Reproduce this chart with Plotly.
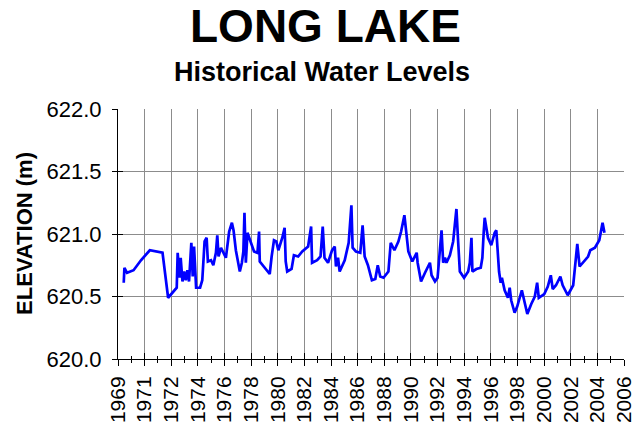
import plotly.graph_objects as go

# ---- data (decimal year, elevation m) ----
years = [1969.47, 1969.52, 1969.71, 1970.19, 1970.73, 1971.38, 1972.31, 1972.72, 1973.35, 1973.42,
         1973.55, 1973.64, 1973.77, 1973.89, 1974.01, 1974.13, 1974.25, 1974.42, 1974.52, 1974.62,
         1974.77, 1975.06, 1975.22, 1975.39, 1975.54, 1975.63, 1975.86, 1976.03, 1976.22, 1976.32,
         1976.41, 1976.59, 1976.95, 1977.19, 1977.39, 1977.51, 1977.68, 1977.87, 1977.97, 1978.12,
         1978.23, 1978.31, 1978.41, 1978.53, 1978.77, 1979.01, 1979.26, 1979.38, 1979.43, 1979.74,
         1980.16, 1980.30, 1980.47, 1980.64, 1980.79, 1981.08, 1981.25, 1981.33, 1981.44, 1981.76,
         1981.93, 1982.24, 1982.54, 1982.97, 1983.19, 1983.26, 1983.63, 1983.88, 1984.04, 1984.17,
         1984.43, 1984.72, 1984.92, 1985.01, 1985.16, 1985.28, 1985.65, 1985.94, 1986.14, 1986.23,
         1986.47, 1986.79, 1986.96, 1987.11, 1987.35, 1987.64, 1987.89, 1988.07, 1988.25, 1988.49,
         1988.85, 1989.02, 1989.29, 1989.58, 1989.78, 1990.02, 1990.15, 1990.31, 1990.60, 1990.92,
         1990.99, 1991.24, 1991.53, 1991.89, 1992.01, 1992.26, 1992.45, 1992.74, 1992.86, 1992.99,
         1993.10, 1993.35, 1993.59, 1993.83, 1993.96, 1994.08, 1994.39, 1994.69, 1994.81, 1994.93,
         1995.00, 1995.29, 1995.61, 1995.73, 1995.83, 1995.90, 1996.02, 1996.14, 1996.38, 1996.63,
         1996.75, 1996.82, 1996.95, 1997.07, 1997.16, 1997.36, 1997.60, 1997.73, 1997.84, 1998.09,
         1998.28, 1998.62, 1998.82, 1999.02, 1999.31, 1999.57, 1999.74, 1999.86, 2000.26, 2000.52,
         2000.74, 2000.88, 2001.12, 2001.44, 2001.61, 2001.98, 2002.38, 2002.58, 2002.68, 2002.85,
         2003.14, 2003.47, 2003.63, 2003.97, 2004.29, 2004.53, 2004.60, 2004.67]
elevation = [620.61, 620.73, 620.69, 620.71, 620.79, 620.87, 620.85, 620.49, 620.57, 620.85,
             620.65, 620.81, 620.62, 620.70, 620.63, 620.71, 620.62, 620.93, 620.66, 620.90,
             620.57, 620.57, 620.63, 620.94, 620.97, 620.78, 620.79, 620.75, 620.85, 620.99,
             620.82, 620.89, 620.81, 621.02, 621.09, 621.03, 620.87, 620.75, 620.70, 620.77,
             620.86, 621.17, 620.77, 621.01, 620.93, 620.86, 620.85, 621.02, 620.78, 620.74,
             620.68, 620.82, 620.95, 620.94, 620.87, 620.97, 621.05, 620.78, 620.70, 620.72,
             620.83, 620.82, 620.86, 620.90, 621.06, 620.77, 620.79, 620.82, 621.06, 620.81,
             620.77, 620.87, 620.90, 620.74, 620.81, 620.70, 620.79, 620.93, 621.23, 620.89,
             620.86, 620.85, 621.07, 620.82, 620.75, 620.63, 620.64, 620.75, 620.66, 620.65,
             620.70, 620.93, 620.87, 620.94, 621.02, 621.15, 621.03, 620.86, 620.78, 620.85,
             620.77, 620.62, 620.69, 620.77, 620.67, 620.62, 620.65, 621.03, 620.77, 620.81,
             620.77, 620.83, 620.94, 621.20, 620.93, 620.70, 620.65, 620.70, 620.77, 620.97,
             620.70, 620.72, 620.73, 620.81, 621.02, 621.13, 621.05, 620.97, 620.91, 621.01,
             621.03, 620.90, 620.70, 620.61, 620.65, 620.55, 620.49, 620.57, 620.47, 620.37,
             620.42, 620.55, 620.46, 620.36, 620.44, 620.50, 620.61, 620.49, 620.52, 620.58,
             620.67, 620.56, 620.59, 620.66, 620.59, 620.51, 620.59, 620.78, 620.92, 620.74,
             620.78, 620.82, 620.87, 620.89, 620.95, 621.09, 621.05, 621.01]

tick_labels = ["1969", "1971", "1972", "1974", "1976", "1978", "1980", "1982", "1984", "1986",
               "1988", "1990", "1992", "1994", "1996", "1998", "2000", "2002", "2004", "2006"]
tick_start = 1969.05
tick_step = 1.95
y_range = [620.0, 622.0]

tick_vals = [round(tick_start + i * tick_step, 4) for i in range(len(tick_labels))]
minor_vals = [round(v + tick_step / 2, 4) for v in tick_vals[:-1]]
x_range = [tick_vals[0] - 1e-4, tick_vals[-1] + 1e-4]

FONT = "Liberation Sans, Arial, sans-serif"
GRID = "#8c8c8c"

fig = go.Figure()
fig.add_trace(go.Scatter(x=years, y=elevation, mode="lines",
                         line=dict(color="#0000FF", width=2.7), showlegend=False,
                         hoverinfo="x+y"))
# empty trace to host the overlay axes (inside tick marks)
fig.add_trace(go.Scatter(x=[], y=[], xaxis="x2", yaxis="y2", showlegend=False))

fig.update_layout(
    width=636, height=430,
    margin=dict(l=118, r=12, t=109, b=71),
    paper_bgcolor="white", plot_bgcolor="white",
    font=dict(family=FONT, color="black"),
    xaxis=dict(range=x_range, tickmode="array", tickvals=tick_vals, ticktext=tick_labels,
               tickangle=-90, tickfont=dict(size=21, family=FONT), automargin=False,
               ticklabelstandoff=2, ticklabeloverflow="allow",
               showgrid=True, gridcolor=GRID, gridwidth=1,
               showline=True, linecolor="black", linewidth=1,
               ticks="outside", ticklen=6, tickcolor="black", tickwidth=1,
               minor=dict(tickmode="array", tickvals=minor_vals, ticks="outside",
                          ticklen=3, tickcolor="black", tickwidth=1, showgrid=False),
               zeroline=False),
    yaxis=dict(range=y_range, tickmode="linear", tick0=620.0, dtick=0.5, tickformat=".1f",
               tickfont=dict(size=22, family=FONT), automargin=False,
               ticklabelstandoff=6, ticklabeloverflow="allow",
               showgrid=True, gridcolor=GRID, gridwidth=1,
               showline=True, linecolor="black", linewidth=1,
               ticks="outside", ticklen=5, tickcolor="black", tickwidth=1,
               zeroline=False),
    xaxis2=dict(range=x_range, overlaying="x", anchor="y2", side="bottom",
                tickmode="array", tickvals=tick_vals, showticklabels=False,
                ticks="inside", ticklen=6, tickcolor="black", tickwidth=1,
                minor=dict(tickmode="array", tickvals=minor_vals, ticks="inside",
                           ticklen=3, tickcolor="black", tickwidth=1, showgrid=False),
                showgrid=False, zeroline=False, showline=False),
    yaxis2=dict(range=y_range, overlaying="y", anchor="x2", side="left",
                tickmode="linear", tick0=620.0, dtick=0.5, showticklabels=False,
                ticks="inside", ticklen=5, tickcolor="black", tickwidth=1,
                showgrid=False, zeroline=False, showline=False),
    annotations=[
        dict(text="<b>LONG LAKE</b>", xref="paper", yref="paper", x=0.410, y=1.331,
             xanchor="center", yanchor="middle", showarrow=False,
             font=dict(size=46, family=FONT)),
        dict(text="<b>Historical Water Levels</b>", xref="paper", yref="paper", x=0.404, y=1.150,
             xanchor="center", yanchor="middle", showarrow=False,
             font=dict(size=27, family=FONT)),
        dict(text="<b>ELEVATION (m)</b>", xref="paper", yref="paper", x=-0.1858, y=0.504,
             xanchor="center", yanchor="middle", textangle=-90, showarrow=False,
             font=dict(size=22, family=FONT)),
    ],
)

fig.write_html("out.html", config={"displayModeBar": False, "staticPlot": True})

# remove the browser's default page margin so the 636x430 figure fills the window exactly
with open("out.html", "r", encoding="utf-8") as fh:
    html = fh.read()
html = html.replace("<head>", "<head><style>html,body{margin:0;padding:0;overflow:hidden;}</style>", 1)
with open("out.html", "w", encoding="utf-8") as fh:
    fh.write(html)
